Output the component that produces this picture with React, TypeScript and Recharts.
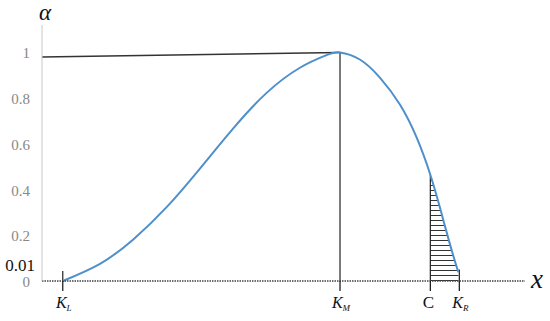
import React from 'react';
import {
  ComposedChart,
  Line,
  Area,
  XAxis,
  YAxis,
  ReferenceLine,
  Label,
} from 'recharts';

// Key abscissae
const K_L = 0.43;
const K_M = 6.17;
const C = 8.04;
const K_R = 8.64;

// Curve alpha(x)
const curveX = [0.43, 1.2, 1.89, 2.58, 3.27, 3.96, 4.65, 5.34, 5.89, 6.17, 6.58, 7.0, 7.41, 7.76, 8.04, 8.24, 8.45, 8.62];
const curveY = [0.0, 0.075, 0.182, 0.323, 0.492, 0.668, 0.823, 0.933, 0.988, 1.0, 0.969, 0.889, 0.772, 0.626, 0.465, 0.32, 0.158, 0.038];

const yTicks = [0, 0.01, 0.2, 0.4, 0.6, 0.8, 1];
const yTickLabels = ['0', '0.01', '0.2', '0.4', '0.6', '0.8', '1'];

const xTicks = [K_L, K_M, C, K_R];
const xTickMain = ['K', 'K', 'C', 'K'];
const xTickSub = ['L', 'M', '', 'R'];

// sloped guide line at the top-left
const guideStart = { x: 0, y: 0.98 };
const guideEnd = { x: K_M, y: 1.0 };

const cValue = 0.465;
const kLMark = 0.044;
const kRMark = 0.05;

const curveData = curveX.map((x, i) => ({ x, y: curveY[i] }));
const hatchData = curveData.filter((d) => d.x >= C);

const FONT = '"Liberation Serif", "DejaVu Serif", serif';

const YTick = (props: any) => {
  const { x, y, payload } = props;
  const idx = yTicks.indexOf(payload.value);
  const label = yTickLabels[idx];
  if (payload.value === 0.01) {
    return (
      <text x={x + 1} y={y - 8} textAnchor="end" style={{ fontFamily: FONT, fontSize: 17 }} fill="#111">
        {label}
      </text>
    );
  }
  return (
    <text x={x - 4} y={y + 6} textAnchor="end" style={{ fontFamily: FONT, fontSize: 15 }} fill="#888">
      {label}
    </text>
  );
};

const XTick = (props: any) => {
  const { x, y, payload } = props;
  const idx = xTicks.indexOf(payload.value);
  const main = xTickMain[idx];
  const sub = xTickSub[idx];
  if (!sub) {
    return (
      <text x={x - 2} y={y + 15} textAnchor="middle" style={{ fontFamily: FONT, fontSize: 17 }} fill="#111">
        {main}
      </text>
    );
  }
  return (
    <text x={x + 1} y={y + 15} textAnchor="middle" style={{ fontFamily: FONT, fontSize: 16, fontStyle: 'italic' }} fill="#111">
      {main}
      <tspan style={{ fontSize: 9 }} dy={3}>{sub}</tspan>
    </text>
  );
};

export default function App() {
  return (
    <div style={{ position: 'absolute', left: 0, top: 0 }}>
      <ComposedChart
        width={550}
        height={321}
        data={curveData}
        margin={{ top: 25, right: 25, bottom: 0, left: 0 }}
      >
        <defs>
          <pattern id="hatch" patternUnits="userSpaceOnUse" width={8} height={5}>
            <line x1={0} y1={0.5} x2={8} y2={0.5} stroke="#333" strokeWidth={1} />
          </pattern>
        </defs>
        <XAxis
          dataKey="x"
          type="number"
          domain={[0, 10]}
          ticks={xTicks}
          height={40}
          tickSize={10}
          axisLine={{ stroke: '#444', strokeWidth: 1.5, strokeDasharray: '1.5 1' }}
          tickLine={{ stroke: '#111', strokeWidth: 1.2 }}
          tick={<XTick />}
          interval={0}
        >
          <Label
            content={(p: any) => {
              const vb = p.viewBox;
              return (
                <text x={vb.x + vb.width + 12} y={vb.y + 7} textAnchor="middle" style={{ fontFamily: FONT, fontSize: 27, fontStyle: 'italic' }} fill="#111">
                  x
                </text>
              );
            }}
          />
        </XAxis>
        <YAxis
          type="number"
          domain={[0, 1.12]}
          ticks={yTicks}
          width={42}
          tickLine={false}
          axisLine={{ stroke: '#c8c8c8', strokeWidth: 1 }}
          tick={<YTick />}
          interval={0}
        >
          <Label
            content={(p: any) => {
              const vb = p.viewBox;
              return (
                <text x={vb.x + vb.width + 3} y={vb.y - 5} textAnchor="middle" style={{ fontFamily: FONT, fontSize: 23, fontStyle: 'italic' }} fill="#111">
                  α
                </text>
              );
            }}
          />
        </YAxis>
        <Area
          data={hatchData}
          dataKey="y"
          type="natural"
          stroke="none"
          fill="url(#hatch)"
          fillOpacity={1}
          isAnimationActive={false}
        />
        <ReferenceLine
          segment={[guideStart, guideEnd]}
          stroke="#333"
          strokeWidth={1.5}
          ifOverflow="visible"
        />
        <ReferenceLine segment={[{ x: K_M, y: 0 }, { x: K_M, y: 1 }]} stroke="#222" strokeWidth={1.2} />
        <ReferenceLine segment={[{ x: C, y: 0 }, { x: C, y: cValue }]} stroke="#222" strokeWidth={1.2} />
        <ReferenceLine segment={[{ x: K_L, y: 0 }, { x: K_L, y: kLMark }]} stroke="#222" strokeWidth={1.2} />
        <ReferenceLine segment={[{ x: K_R, y: 0 }, { x: K_R, y: kRMark }]} stroke="#222" strokeWidth={1.2} />
        <Line
          dataKey="y"
          type="natural"
          stroke="#4f8fcb"
          strokeWidth={2}
          dot={false}
          isAnimationActive={false}
        />
      </ComposedChart>
    </div>
  );
}
